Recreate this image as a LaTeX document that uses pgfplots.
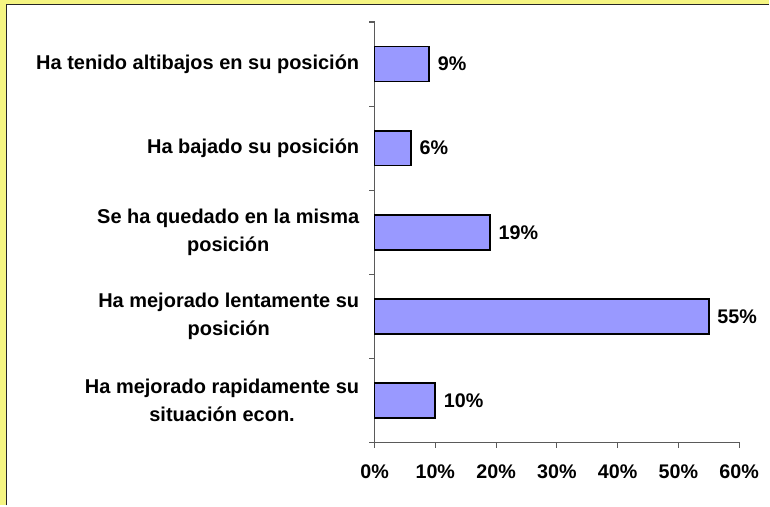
\documentclass[border=0pt]{standalone}
\usepackage{pgfplots}
\pgfplotsset{compat=1.18}
\usepackage{fontspec}
\setmainfont{Liberation Sans}
\definecolor{bgyellow}{RGB}{245,245,130}
\definecolor{barblue}{RGB}{153,153,255}
\definecolor{axgray}{RGB}{90,90,90}
\begin{document}
\begin{tikzpicture}[x=0.75pt,y=0.75pt]
\fill[bgyellow] (0,0) rectangle (770,506);
\fill[white] (6.5,0) rectangle (770,501.5);
\draw[line width=1.4pt, black!85] (6.5,0) -- (6.5,501.5) -- (770,501.5);
\begin{axis}[
  at={(281.25pt,47.25pt)}, anchor=south west,
  scale only axis, width=273.75pt, height=315.75pt,
  /pgf/number format/assume math mode=true,
  xbar, bar width=26.25pt,
  xmin=0, xmax=60, ymin=-0.5, ymax=4.5,
  axis x line*=bottom, axis y line*=left,
  axis line style={axgray, line width=0.8pt},
  tick align=outside, major tick length=4pt,
  tick style={axgray, line width=0.8pt},
  xtick={0,10,20,30,40,50,60},
  xticklabels={0\%,10\%,20\%,30\%,40\%,50\%,60\%},
  xticklabel style={font=\bfseries\fontsize{14.8}{17}\selectfont, yshift=-9pt},
  ytick={-0.5,0.5,1.5,2.5,3.5,4.5},
  yticklabels={},
  extra y ticks={0,1,2,3,4},
  extra y tick labels={{Ha mejorado rapidamente su\\situación econ.},{Ha mejorado lentamente su\\posición},{Se ha quedado en la misma\\posición},{Ha bajado su posición},{Ha tenido altibajos en su posición}},
  extra y tick style={major tick length=0pt, tick style={draw=none}},
  yticklabel style={font=\bfseries\fontsize{15}{20.5}\selectfont, align=center, xshift=-8pt},
  nodes near coords={\pgfmathprintnumber{\pgfplotspointmeta}\%},
  nodes near coords style={font=\bfseries\fontsize{14.8}{17}\selectfont, anchor=west, xshift=2.5pt},
  clip=false,
]
\addplot[fill=barblue, draw=black, line width=1.3pt] coordinates {(10,0) (55,1) (19,2) (6,3) (9,4)};
\end{axis}
\end{tikzpicture}
\end{document}
